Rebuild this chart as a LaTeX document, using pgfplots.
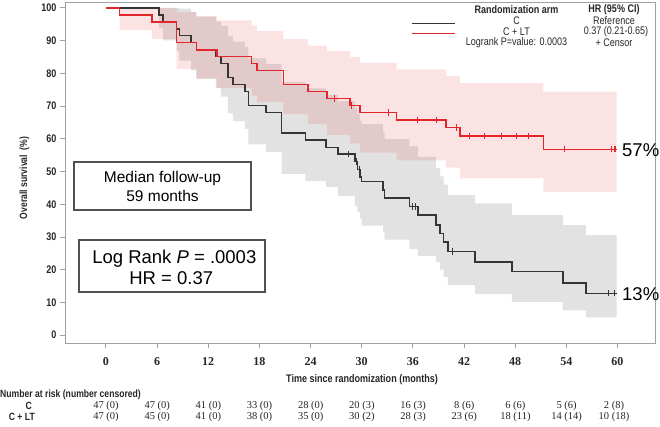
\documentclass[border=0pt]{standalone}
\usepackage{pgfplots}
\pgfplotsset{compat=1.18}
\usepgfplotslibrary{fillbetween}
\usepackage{fontspec}
\setmainfont{Liberation Sans}
\newfontfamily\cond[FakeStretch=0.82]{Liberation Sans}
\newfontfamily\serifr{Liberation Serif}
\definecolor{kmred}{HTML}{E3262B}
\definecolor{kmblack}{HTML}{353535}
\definecolor{bandgrey}{HTML}{E2E2E2}
\definecolor{axgrey}{HTML}{A0A0A0}
\definecolor{boxgrey}{HTML}{505050}
\begin{document}
\begin{tikzpicture}
\path (0pt,0pt) rectangle (660pt,426pt);
\begin{axis}[
  at={(65pt,83pt)}, anchor=south west,
  scale only axis, width=590pt, height=341pt,
  xmin=-4.8, xmax=64.4, ymin=-2.4, ymax=101.8,
  axis line style={axgrey, line width=0.9pt},
  xtick={0,6,...,60}, ytick={0,10,...,100},
  tick style={axgrey, line width=0.9pt},
  tick align=outside, major tick length=5pt,
  xtick pos=bottom, ytick pos=left,
  /pgf/number format/assume math mode=true,
  yticklabel style={font=\cond\bfseries\fontsize{11}{13}\selectfont, text=black!85},
  xticklabel style={font=\serifr\bfseries\fontsize{12}{14}\selectfont, text=black!85, yshift=-6pt},
  clip=false,
]
% grey band (C): 95% CI, upper
\addplot[name path=gu, const plot, draw=none] table {
t v
0 100
6.2 100
6.7 100
8.3 100
8.6 99.8
10.0 98.7
10.6 97.3
12.9 95.9
13.5 94.5
14.3 91.3
14.9 89.7
16.3 88.1
16.7 84.6
18.8 82.8
20.6 77.3
23.4 75.4
25.8 73.4
27.2 71.5
29.2 69.5
29.5 67.5
29.8 65.5
30.0 64.5
32.5 62.1
32.7 59.9
35.6 57.7
36.6 54.5
38.7 51
39.2 48.5
39.6 46
40.1 42.8
43.3 40.3
47.6 36.7
53.6 33.6
56.3 30.6
59.9 30.6
};
% grey band (C): lower
\addplot[name path=gl, const plot, draw=none] table {
t v
0 100
6.2 93.9
6.7 90.1
8.3 86.8
8.6 83.9
10.0 81.0
10.6 78.2
12.9 75.5
13.5 72.9
14.3 67.8
14.9 65.4
16.3 63.0
16.7 58.3
18.8 56.0
20.6 49.3
23.4 47.1
25.8 45.3
27.2 42.5
29.2 39.5
29.5 37.5
29.8 35.7
30.0 33.5
32.5 31.3
32.7 29.2
35.6 26.3
36.6 24.2
38.7 22.2
39.2 20
39.6 17.8
40.1 15.3
43.3 12.5
47.6 10.2
53.6 7.6
56.3 5.4
59.9 5.4
};
\addplot[bandgrey] fill between[of=gu and gl];
% pink band (C + LT): upper
\addplot[name path=ru, const plot, draw=none] table {
t v
0 100
1.6 100
5.4 100
8.3 98.8
10.6 97.5
13.0 96.2
17.1 94.6
17.7 93
20.8 90.5
23.7 88.5
25.9 86.8
28.6 85
29.8 83.3
34.1 81.2
39.9 79.2
41.5 77.0
51.3 74.4
59.9 74.4
};
% pink band (C + LT): lower
\addplot[name path=rl, const plot, draw=none] table {
t v
0 100
1.6 93.2
5.4 90.5
8.3 81.3
10.6 78.5
13.0 75.5
17.1 73.2
17.7 71.2
20.8 67.5
23.7 64.5
25.9 61.2
28.6 58.6
29.8 55.8
34.1 53.4
39.9 51.2
41.5 47.9
51.3 43.8
59.9 43.8
};
\addplot[kmred, fill opacity=0.13] fill between[of=ru and rl];
% KM curve C
\addplot[kmblack, line width=1.5pt, const plot] table {
t s
0 100
6.2 97.9
6.7 95.7
8.3 93.6
8.6 91.5
10.0 89.4
10.6 87.2
12.9 85.1
13.5 83.0
14.3 78.7
14.9 76.6
16.3 74.5
16.7 70.2
18.8 68.1
20.6 61.7
23.4 59.6
25.8 57.4
27.2 55.3
29.2 53.0
29.5 50.6
29.8 48.3
30.0 47.0
32.5 44.4
32.7 41.9
35.6 39.3
36.6 36.7
38.7 33.6
39.2 31.1
39.6 28.5
40.1 25.5
43.3 22.4
47.6 19.4
53.6 16.0
56.3 12.8
60.0 12.8
};
% KM curve C + LT
\addplot[kmred, line width=1.5pt, const plot] table {
t s
0 100
1.6 97.9
5.4 95.7
8.3 89.4
10.6 87.2
13.0 85.1
17.1 83.0
17.7 80.9
20.8 76.6
23.7 74.5
25.9 72.3
28.6 70.2
29.8 68.0
34.1 65.8
39.9 63.5
41.5 60.8
51.3 56.8
60.0 56.8
};
% censor marks
\addplot[only marks, mark=|, mark size=3.2pt, kmblack, mark options={line width=1pt}] table {
t s
28.4 55.3
29.4 53.0
29.7 50.6
36.0 39.3
36.3 39.3
40.7 25.5
58.9 12.8
59.7 12.8
};
\addplot[only marks, mark=|, mark size=3.2pt, kmred, mark options={line width=1pt}] table {
t s
26.8 72.3
28.8 70.2
33.2 68.0
36.6 65.8
38.8 65.8
41.1 63.5
42.7 60.8
44.4 60.8
46.4 60.8
48.1 60.8
49.6 60.8
53.8 56.8
59.3 56.8
59.6 56.8
59.8 56.8
};
\end{axis}
\begin{scope}[x=1pt,y=1pt]
% frame top and right
\draw[axgrey, line width=0.9pt] (65,424) -- (655,424) -- (655,83);
% axis titles
\node[rotate=90, font=\cond\bfseries\fontsize{10.5}{12}\selectfont, text=black!85] at (24.5,248) {Overall survival\ \ (\%)};
\node[font=\cond\bfseries\fontsize{11}{13}\selectfont, text=black!85] at (362,46) {Time since randomization (months)};
% legend
\draw[kmblack, line width=1.5pt] (411.7,402.7) -- (455,402.7);
\draw[kmred, line width=1.5pt] (411.7,392.7) -- (455,392.7);
\begin{scope}[every node/.style={font=\cond\fontsize{11}{13}\selectfont, text=black!85, inner sep=0pt}]
\node[font=\cond\bfseries\fontsize{11}{13}\selectfont] at (516.5,416.7) {Randomization arm};
\node at (516.5,405.3) {C};
\node at (516.5,394.3) {C + LT};
\node at (516.5,383.3) {Logrank P=value: 0.0003};
\node[font=\cond\bfseries\fontsize{11}{13}\selectfont] at (614,416.7) {HR (95\% CI)};
\node at (614,405.3) {Reference};
\node at (616,394.3) {0.37 (0.21-0.65)};
\node at (614,383.3) {+ Censor};
\end{scope}
% annotation boxes
\draw[boxgrey, line width=1.1pt] (74,264) rectangle (251,216);
\node[anchor=base, font=\fontsize{15.5}{18}\selectfont, inner sep=0pt] at (162.5,243.3) {Median follow-up};
\node[anchor=base, font=\fontsize{15.5}{18}\selectfont, inner sep=0pt] at (162.5,224.3) {59 months};
\draw[boxgrey, line width=1.1pt] (79,186) rectangle (265,134);
\node[anchor=base, font=\fontsize{18.5}{22}\selectfont, inner sep=0pt] at (174.3,162.7) {Log Rank \textit{P} = .0003};
\node[anchor=base, font=\fontsize{18.5}{22}\selectfont, inner sep=0pt] at (171.2,142) {HR = 0.37};
\node[anchor=base west, font=\fontsize{18.5}{22}\selectfont, inner sep=0pt] at (622,269.3) {57\%};
\node[anchor=base west, font=\fontsize{18.5}{22}\selectfont, inner sep=0pt] at (622,126) {13\%};
% number at risk
\node[anchor=west, inner sep=0pt, font=\cond\bfseries\fontsize{10.5}{12}\selectfont, text=black!85] at (0,31.7) {Number at risk (number censored)};
\node[anchor=east, inner sep=0pt, font=\cond\bfseries\fontsize{10.5}{12}\selectfont, text=black!85] at (32,20) {C};
\node[anchor=east, inner sep=0pt, font=\cond\bfseries\fontsize{10.5}{12}\selectfont, text=black!85] at (35,9.3) {C + LT};
\begin{scope}[every node/.style={font=\serifr\fontsize{10.5}{12}\selectfont, text=black!85, inner sep=0pt}]
\node at (106,20) {47 (0)};   \node at (106,9.3) {47 (0)};
\node at (157.2,20) {47 (0)}; \node at (157.2,9.3) {45 (0)};
\node at (208.4,20) {41 (0)}; \node at (208.4,9.3) {41 (0)};
\node at (259.5,20) {33 (0)}; \node at (259.5,9.3) {38 (0)};
\node at (310.7,20) {28 (0)}; \node at (310.7,9.3) {35 (0)};
\node at (361.9,20) {20 (3)}; \node at (361.9,9.3) {30 (2)};
\node at (413.1,20) {16 (3)}; \node at (413.1,9.3) {28 (3)};
\node at (464.3,20) {8 (6)};  \node at (464.3,9.3) {23 (6)};
\node at (515.4,20) {6 (6)};  \node at (515.4,9.3) {18 (11)};
\node at (566.6,20) {5 (6)};  \node at (566.6,9.3) {14 (14)};
\node at (614,20) {2 (8)};    \node at (614,9.3) {10 (18)};
\end{scope}
\end{scope}
\end{tikzpicture}
\end{document}
